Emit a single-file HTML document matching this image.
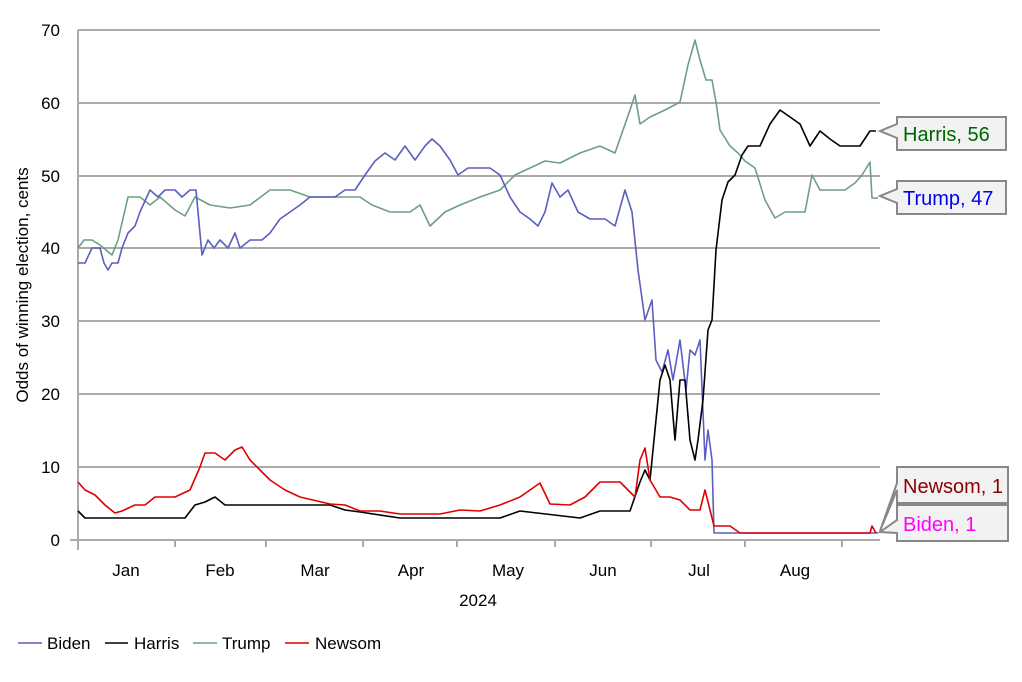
<!DOCTYPE html>
<html><head><meta charset="utf-8"><style>body{margin:0;background:#fff}svg{display:block}text{font-family:"Liberation Sans",Arial,sans-serif}</style></head><body>
<svg width="1022" height="682" viewBox="0 0 1022 682">
<g stroke="#aaa" stroke-width="2">
<line x1="78" y1="30" x2="880" y2="30"/><line x1="78" y1="103" x2="880" y2="103"/><line x1="78" y1="176" x2="880" y2="176"/><line x1="78" y1="248" x2="880" y2="248"/><line x1="78" y1="321" x2="880" y2="321"/><line x1="78" y1="394" x2="880" y2="394"/><line x1="78" y1="467" x2="880" y2="467"/><line x1="70" y1="540" x2="880" y2="540"/>
<line x1="78" y1="30" x2="78" y2="550"/>
<line x1="175" y1="540" x2="175" y2="547"/><line x1="266" y1="540" x2="266" y2="547"/><line x1="363" y1="540" x2="363" y2="547"/><line x1="457" y1="540" x2="457" y2="547"/><line x1="555" y1="540" x2="555" y2="547"/><line x1="651" y1="540" x2="651" y2="547"/><line x1="745" y1="540" x2="745" y2="547"/><line x1="842" y1="540" x2="842" y2="547"/>
</g>
<g font-size="17" fill="#000" text-anchor="end">
<text x="60" y="36">70</text><text x="60" y="109">60</text><text x="60" y="182">50</text><text x="60" y="254">40</text><text x="60" y="327">30</text><text x="60" y="400">20</text><text x="60" y="473">10</text><text x="60" y="546">0</text>
</g>
<g font-size="17" text-anchor="middle">
<text x="126" y="576">Jan</text><text x="220" y="576">Feb</text><text x="315" y="576">Mar</text><text x="411" y="576">Apr</text><text x="508" y="576">May</text><text x="603" y="576">Jun</text><text x="699" y="576">Jul</text><text x="795" y="576">Aug</text>
<text x="478" y="606">2024</text>
<text transform="translate(28,285) rotate(-90)">Odds of winning election, cents</text>
</g>
<g fill="none" stroke-width="1.6" stroke-linejoin="round">
<polyline stroke="#6e9e86" points="78,248 84,240 92,240 100,245 112,255 118,240 128,197 140,197 150,205 160,197 175,210 185,216 195,197 210,205 230,208 250,205 270,190 290,190 310,197 330,197 345,197 360,197 372,205 390,212 410,212 420,205 430,226 445,212 460,205 480,197 500,190 515,175 530,168 545,161 560,163 580,153 600,146 615,153 630,110 635,95 640,124 650,117 665,110 680,102 688,65 695,40 700,60 706,80 712,80 716,102 720,130 730,146 738,153 745,161 755,168 765,200 775,218 785,212 795,212 805,212 812,175 820,190 835,190 845,190 855,183 862,175 870,162 872,198 878,198"/>
<polyline stroke="#5b5fbf" points="78,263 85,263 92,248 100,248 104,263 108,270 112,263 118,263 122,248 128,233 135,226 140,212 150,190 158,197 165,190 175,190 182,197 190,190 196,190 202,255 208,240 214,248 220,240 228,248 235,233 240,248 250,240 262,240 270,233 280,219 290,212 300,205 310,197 320,197 335,197 345,190 355,190 365,175 375,161 385,153 395,160 405,146 415,160 425,146 432,139 440,146 450,160 458,175 468,168 478,168 490,168 500,175 510,197 520,212 530,219 538,226 545,212 552,183 560,197 568,190 578,212 590,219 605,219 615,226 625,190 632,212 638,270 645,320 652,300 656,360 662,372 668,350 673,380 680,340 686,390 690,350 695,355 700,340 705,460 708,430 712,460 714,533 878,533"/>
<polyline stroke="#000" points="78,511 85,518 120,518 150,518 175,518 185,518 195,505 205,502 215,497 225,505 245,505 260,505 280,505 300,505 330,505 345,510 360,512 400,518 450,518 480,518 500,518 520,511 580,518 600,511 630,511 640,482 645,470 650,480 655,430 660,380 665,365 670,380 675,440 680,380 685,380 690,440 695,460 698,440 703,400 708,330 712,320 716,250 722,200 728,182 735,175 742,155 748,146 760,146 770,124 780,110 790,117 800,124 810,146 820,131 830,139 840,146 850,146 860,146 870,131 876,131"/>
<polyline stroke="#e00000" points="78,482 85,490 95,495 105,505 115,513 122,511 135,505 145,505 155,497 165,497 175,497 190,490 200,467 205,453 215,453 225,460 235,450 242,447 250,460 260,470 270,480 285,490 300,497 330,504 345,505 360,511 380,511 400,514 420,514 440,514 460,510 480,511 500,505 520,497 540,483 550,504 570,505 585,497 600,482 620,482 635,497 640,460 645,448 650,480 660,497 670,497 680,500 690,510 700,510 705,490 710,510 714,526 730,526 740,533 870,533 872,526 876,533"/>
</g>
<g stroke="#888" stroke-width="2" fill="#f2f2f2">
<path d="M897,117 H1006 V150 H897 V138 L880,131 L897,124 Z"/>
<path d="M897,181 H1006 V214 H897 V203 L880,196 L897,189 Z"/>
<path d="M897,467 H1008 V503 H897 V490 L880,531 L897,483 Z"/>
<path d="M897,505 H1008 V541 H897 V533 L880,532 L897,520 Z"/>
</g>
<g font-size="20">
<text x="903" y="141" fill="#006400">Harris, 56</text>
<text x="903" y="205" fill="#0000ee">Trump, 47</text>
<text x="903" y="493" fill="#8b0000">Newsom, 1</text>
<text x="903" y="531" fill="#ff00ff">Biden, 1</text>
</g>
<g stroke-width="1.6">
<line x1="18" y1="643" x2="42" y2="643" stroke="#5b5fbf"/>
<line x1="105" y1="643" x2="128" y2="643" stroke="#000"/>
<line x1="193" y1="643" x2="217" y2="643" stroke="#6e9e86"/>
<line x1="285" y1="643" x2="309" y2="643" stroke="#e00000"/>
</g>
<g font-size="17">
<text x="47" y="649">Biden</text><text x="134" y="649">Harris</text><text x="222" y="649">Trump</text><text x="315" y="649">Newsom</text>
</g>
</svg>
</body></html>
